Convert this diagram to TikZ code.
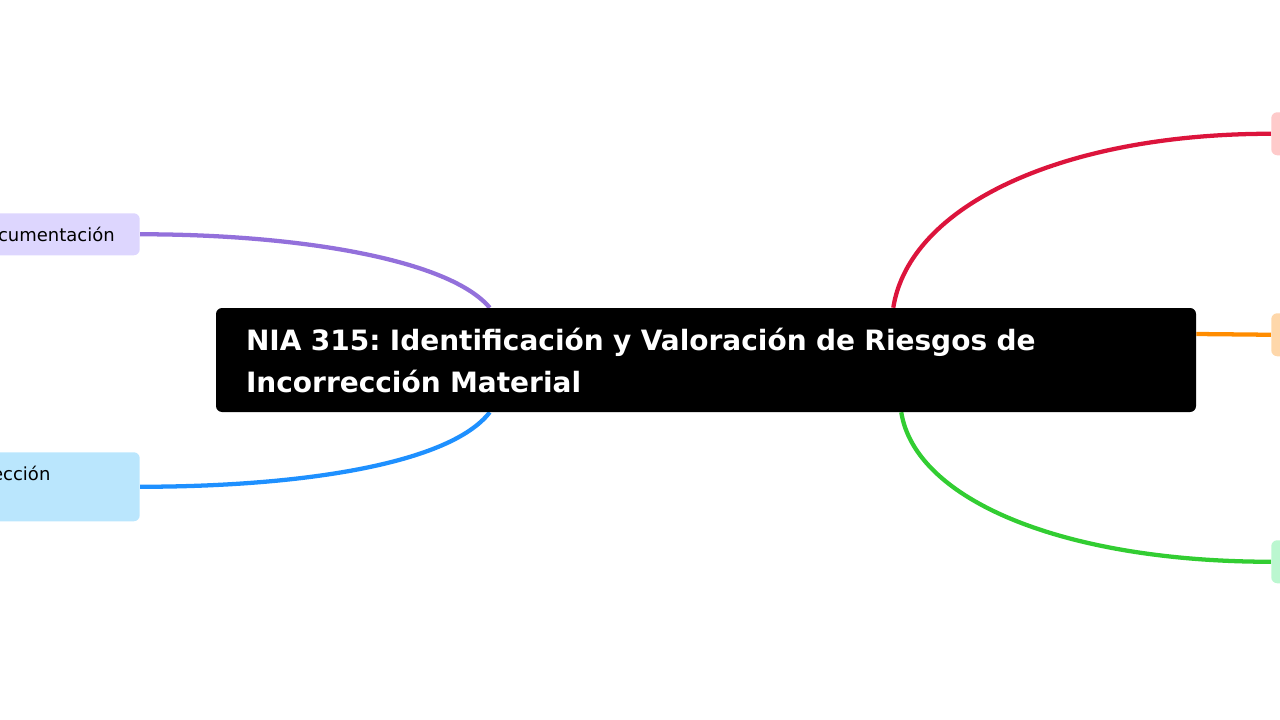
\documentclass[tikz,border=0pt]{standalone}
\usepackage{fontspec}
\setmainfont{DejaVu Sans}
\usetikzlibrary{calc,backgrounds}

\definecolor{violetline}{HTML}{9370DB}
\definecolor{blueline}{HTML}{1E90FF}
\definecolor{redline}{HTML}{DC143C}
\definecolor{orangeline}{HTML}{FF8C00}
\definecolor{greenline}{HTML}{32CD32}
\definecolor{violetfill}{HTML}{DDD6FE}
\definecolor{bluefill}{HTML}{BAE6FD}
\definecolor{redfill}{HTML}{FECACA}
\definecolor{orangefill}{HTML}{FED7AA}
\definecolor{greenfill}{HTML}{BBF7D0}

\frenchspacing

\begin{document}
\begin{tikzpicture}[
    x=0.75pt, y=-0.75pt,
    rootbox/.style={rectangle, rounded corners=4.5pt, fill=black, text=white,
        font=\bfseries\fontsize{21pt}{31.5pt}\selectfont, align=left,
        text width=690pt, inner xsep=22.5pt, minimum height=78pt},
    leafbox/.style={rectangle, rounded corners=4.5pt, inner ysep=0pt,
        font=\fontsize{13.5pt}{20.25pt}\selectfont, text height=21.5pt},
    stubbox/.style={rectangle, rounded corners=4.5pt, minimum width=75pt,
        minimum height=32.25pt, anchor=north west},
    branch/.style={line width=3.2pt}
]
    \useasboundingbox (0,0) rectangle (1280,720);

    \node[rootbox] (root) at (706,360)
        {NIA 315: Identificación y Valoración de Riesgos de\\Incorrección Material};

    % left side
    \node[leafbox, fill=violetfill, anchor=north east, inner xsep=18.75pt,
        text depth=10pt] (docu) at (140,213) {cumentación};
    \node[leafbox, fill=bluefill, anchor=north east, inner xsep=67pt,
        text height=21pt, text depth=30.75pt] (resp) at (140,452) {ección};

    % right side
    \node[stubbox, fill=redfill] (ident) at (1271,112) {};
    \node[stubbox, fill=orangefill] (valor) at (1271,313) {};
    \node[stubbox, fill=greenfill] (contr) at (1271,540) {};

    \begin{scope}[on background layer]
        \draw[branch, violetline] ($(root.north west)+(274,0)$)
            .. controls +(-40,-48) and +(160,0) .. (docu.east);
        \draw[branch, blueline] ($(root.south west)+(274,0)$)
            .. controls +(-40,52) and +(160,0) .. (resp.east);
        \draw[branch, redline] ($(root.north east)+(-303,0)$)
            .. controls +(16,-102) and +(-209,0) .. (ident.west);
        \draw[branch, orangeline] ($(root.east)+(0,-26)$) -- (valor.west);
        \draw[branch, greenline] ($(root.south east)+(-295,0)$)
            .. controls +(14,88) and +(-207,0) .. (contr.west);
    \end{scope}
\end{tikzpicture}
\end{document}
